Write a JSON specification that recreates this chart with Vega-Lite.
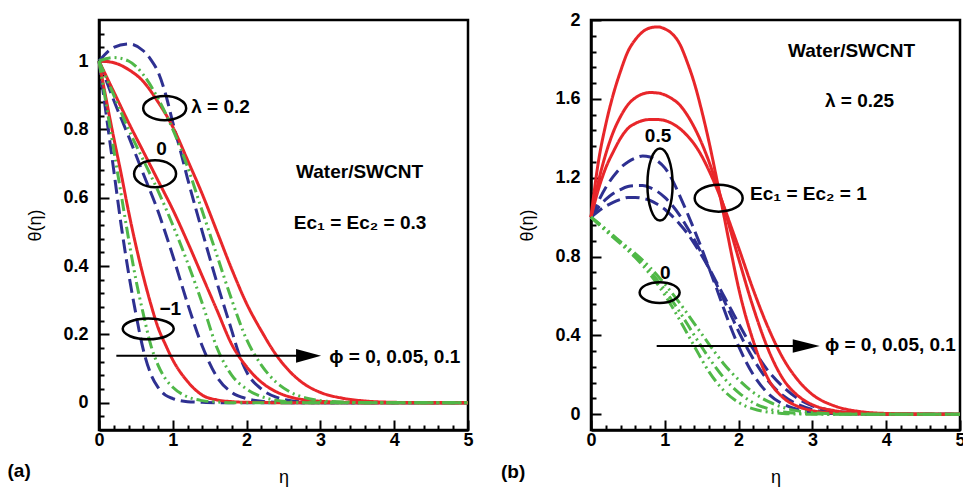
{
"$schema": "https://vega.github.io/schema/vega-lite/v6.json",
"background": "white",
"padding": {"left": 6, "top": 9, "right": 0, "bottom": 0},
"spacing": 23,
"config": {
 "view": {"stroke": "black", "strokeWidth": 2.5},
 "axis": {"domainColor": "black", "domainWidth": 2.5, "tickColor": "black", "tickWidth": 2, "labelFont": "Liberation Sans", "labelFontSize": 18, "labelFontWeight": "bold", "labelColor": "black", "titleFont": "Liberation Sans", "titleFontSize": 18, "titleFontWeight": "normal", "titleColor": "black", "grid": false, "labelFlush": false, "labelOverlap": false}
},
"datasets": {
 "A": [
  {"c":"b2","s":"b","x":0,"y":1},{"c":"b2","s":"b","x":0.2,"y":1.04},{"c":"b2","s":"b","x":0.4,"y":1.05},{"c":"b2","s":"b","x":0.6,"y":1.03},{"c":"b2","s":"b","x":0.7,"y":1.005},{"c":"b2","s":"b","x":0.8,"y":0.968},{"c":"b2","s":"b","x":0.9,"y":0.905},{"c":"b2","s":"b","x":1,"y":0.82},{"c":"b2","s":"b","x":1.1,"y":0.74},{"c":"b2","s":"b","x":1.2,"y":0.656},{"c":"b2","s":"b","x":1.4,"y":0.5},{"c":"b2","s":"b","x":1.6,"y":0.35},{"c":"b2","s":"b","x":1.8,"y":0.21},{"c":"b2","s":"b","x":1.9,"y":0.14},{"c":"b2","s":"b","x":2,"y":0.09},{"c":"b2","s":"b","x":2.2,"y":0.04},{"c":"b2","s":"b","x":2.4,"y":0.016},{"c":"b2","s":"b","x":2.6,"y":0.006},{"c":"b2","s":"b","x":2.8,"y":0.002},{"c":"b2","s":"b","x":3,"y":0},{"c":"b2","s":"b","x":4,"y":0},{"c":"b2","s":"b","x":5,"y":0},
  {"c":"b0","s":"b","x":0,"y":1},{"c":"b0","s":"b","x":0.2,"y":0.885},{"c":"b0","s":"b","x":0.4,"y":0.78},{"c":"b0","s":"b","x":0.6,"y":0.67},{"c":"b0","s":"b","x":0.8,"y":0.56},{"c":"b0","s":"b","x":1,"y":0.43},{"c":"b0","s":"b","x":1.2,"y":0.29},{"c":"b0","s":"b","x":1.4,"y":0.165},{"c":"b0","s":"b","x":1.6,"y":0.075},{"c":"b0","s":"b","x":1.8,"y":0.03},{"c":"b0","s":"b","x":2,"y":0.012},{"c":"b0","s":"b","x":2.2,"y":0.004},{"c":"b0","s":"b","x":2.4,"y":0.001},{"c":"b0","s":"b","x":2.6,"y":0},{"c":"b0","s":"b","x":3,"y":0},{"c":"b0","s":"b","x":4,"y":0},{"c":"b0","s":"b","x":5,"y":0},
  {"c":"bm","s":"b","x":0,"y":1},{"c":"bm","s":"b","x":0.1,"y":0.84},{"c":"bm","s":"b","x":0.2,"y":0.68},{"c":"bm","s":"b","x":0.3,"y":0.52},{"c":"bm","s":"b","x":0.4,"y":0.38},{"c":"bm","s":"b","x":0.5,"y":0.26},{"c":"bm","s":"b","x":0.6,"y":0.155},{"c":"bm","s":"b","x":0.7,"y":0.085},{"c":"bm","s":"b","x":0.8,"y":0.045},{"c":"bm","s":"b","x":0.9,"y":0.022},{"c":"bm","s":"b","x":1,"y":0.012},{"c":"bm","s":"b","x":1.2,"y":0.003},{"c":"bm","s":"b","x":1.4,"y":0.001},{"c":"bm","s":"b","x":1.6,"y":0},{"c":"bm","s":"b","x":2,"y":0},{"c":"bm","s":"b","x":3,"y":0},{"c":"bm","s":"b","x":4,"y":0},{"c":"bm","s":"b","x":5,"y":0},
  {"c":"r2","s":"r","x":0,"y":1},{"c":"r2","s":"r","x":0.2,"y":0.995},{"c":"r2","s":"r","x":0.4,"y":0.975},{"c":"r2","s":"r","x":0.6,"y":0.94},{"c":"r2","s":"r","x":0.8,"y":0.88},{"c":"r2","s":"r","x":1,"y":0.807},{"c":"r2","s":"r","x":1.2,"y":0.71},{"c":"r2","s":"r","x":1.4,"y":0.61},{"c":"r2","s":"r","x":1.6,"y":0.5},{"c":"r2","s":"r","x":1.8,"y":0.39},{"c":"r2","s":"r","x":2,"y":0.29},{"c":"r2","s":"r","x":2.2,"y":0.21},{"c":"r2","s":"r","x":2.4,"y":0.14},{"c":"r2","s":"r","x":2.6,"y":0.088},{"c":"r2","s":"r","x":2.8,"y":0.052},{"c":"r2","s":"r","x":3,"y":0.03},{"c":"r2","s":"r","x":3.3,"y":0.013},{"c":"r2","s":"r","x":3.6,"y":0.005},{"c":"r2","s":"r","x":4,"y":0.001},{"c":"r2","s":"r","x":4.5,"y":0},{"c":"r2","s":"r","x":5,"y":0},
  {"c":"r0","s":"r","x":0,"y":1},{"c":"r0","s":"r","x":0.2,"y":0.91},{"c":"r0","s":"r","x":0.4,"y":0.82},{"c":"r0","s":"r","x":0.6,"y":0.735},{"c":"r0","s":"r","x":0.8,"y":0.65},{"c":"r0","s":"r","x":1,"y":0.565},{"c":"r0","s":"r","x":1.2,"y":0.47},{"c":"r0","s":"r","x":1.4,"y":0.37},{"c":"r0","s":"r","x":1.6,"y":0.27},{"c":"r0","s":"r","x":1.8,"y":0.17},{"c":"r0","s":"r","x":2,"y":0.105},{"c":"r0","s":"r","x":2.2,"y":0.06},{"c":"r0","s":"r","x":2.4,"y":0.032},{"c":"r0","s":"r","x":2.6,"y":0.016},{"c":"r0","s":"r","x":2.8,"y":0.008},{"c":"r0","s":"r","x":3,"y":0.004},{"c":"r0","s":"r","x":3.3,"y":0.001},{"c":"r0","s":"r","x":3.6,"y":0},{"c":"r0","s":"r","x":4,"y":0},{"c":"r0","s":"r","x":5,"y":0},
  {"c":"rm","s":"r","x":0,"y":1},{"c":"rm","s":"r","x":0.1,"y":0.885},{"c":"rm","s":"r","x":0.2,"y":0.775},{"c":"rm","s":"r","x":0.3,"y":0.67},{"c":"rm","s":"r","x":0.4,"y":0.56},{"c":"rm","s":"r","x":0.5,"y":0.46},{"c":"rm","s":"r","x":0.6,"y":0.37},{"c":"rm","s":"r","x":0.7,"y":0.29},{"c":"rm","s":"r","x":0.8,"y":0.22},{"c":"rm","s":"r","x":0.9,"y":0.17},{"c":"rm","s":"r","x":1,"y":0.125},{"c":"rm","s":"r","x":1.2,"y":0.062},{"c":"rm","s":"r","x":1.4,"y":0.022},{"c":"rm","s":"r","x":1.6,"y":0.008},{"c":"rm","s":"r","x":1.8,"y":0.003},{"c":"rm","s":"r","x":2,"y":0.001},{"c":"rm","s":"r","x":2.5,"y":0},{"c":"rm","s":"r","x":3,"y":0},{"c":"rm","s":"r","x":4,"y":0},{"c":"rm","s":"r","x":5,"y":0},
  {"c":"g2","s":"g","x":0,"y":1},{"c":"g2","s":"g","x":0.2,"y":1.01},{"c":"g2","s":"g","x":0.4,"y":1},{"c":"g2","s":"g","x":0.6,"y":0.96},{"c":"g2","s":"g","x":0.8,"y":0.89},{"c":"g2","s":"g","x":1,"y":0.8},{"c":"g2","s":"g","x":1.2,"y":0.69},{"c":"g2","s":"g","x":1.4,"y":0.56},{"c":"g2","s":"g","x":1.6,"y":0.43},{"c":"g2","s":"g","x":1.8,"y":0.3},{"c":"g2","s":"g","x":2,"y":0.185},{"c":"g2","s":"g","x":2.2,"y":0.11},{"c":"g2","s":"g","x":2.4,"y":0.06},{"c":"g2","s":"g","x":2.6,"y":0.03},{"c":"g2","s":"g","x":2.8,"y":0.014},{"c":"g2","s":"g","x":3,"y":0.006},{"c":"g2","s":"g","x":3.3,"y":0.002},{"c":"g2","s":"g","x":3.6,"y":0},{"c":"g2","s":"g","x":4,"y":0},{"c":"g2","s":"g","x":5,"y":0},
  {"c":"g0","s":"g","x":0,"y":1},{"c":"g0","s":"g","x":0.2,"y":0.9},{"c":"g0","s":"g","x":0.4,"y":0.8},{"c":"g0","s":"g","x":0.6,"y":0.71},{"c":"g0","s":"g","x":0.8,"y":0.62},{"c":"g0","s":"g","x":1,"y":0.52},{"c":"g0","s":"g","x":1.2,"y":0.41},{"c":"g0","s":"g","x":1.4,"y":0.29},{"c":"g0","s":"g","x":1.6,"y":0.16},{"c":"g0","s":"g","x":1.8,"y":0.08},{"c":"g0","s":"g","x":2,"y":0.04},{"c":"g0","s":"g","x":2.2,"y":0.018},{"c":"g0","s":"g","x":2.4,"y":0.007},{"c":"g0","s":"g","x":2.6,"y":0.002},{"c":"g0","s":"g","x":2.8,"y":0},{"c":"g0","s":"g","x":3,"y":0},{"c":"g0","s":"g","x":4,"y":0},{"c":"g0","s":"g","x":5,"y":0},
  {"c":"gm","s":"g","x":0,"y":1},{"c":"gm","s":"g","x":0.1,"y":0.87},{"c":"gm","s":"g","x":0.2,"y":0.74},{"c":"gm","s":"g","x":0.3,"y":0.61},{"c":"gm","s":"g","x":0.4,"y":0.48},{"c":"gm","s":"g","x":0.5,"y":0.36},{"c":"gm","s":"g","x":0.6,"y":0.26},{"c":"gm","s":"g","x":0.7,"y":0.17},{"c":"gm","s":"g","x":0.8,"y":0.11},{"c":"gm","s":"g","x":0.9,"y":0.07},{"c":"gm","s":"g","x":1,"y":0.045},{"c":"gm","s":"g","x":1.2,"y":0.017},{"c":"gm","s":"g","x":1.4,"y":0.006},{"c":"gm","s":"g","x":1.6,"y":0.002},{"c":"gm","s":"g","x":1.8,"y":0},{"c":"gm","s":"g","x":2,"y":0},{"c":"gm","s":"g","x":3,"y":0},{"c":"gm","s":"g","x":4,"y":0},{"c":"gm","s":"g","x":5,"y":0}
 ],
 "B": [
  {"c":"B0","s":"b","x":0,"y":1},{"c":"B0","s":"b","x":0.1,"y":1.08},{"c":"B0","s":"b","x":0.2,"y":1.15},{"c":"B0","s":"b","x":0.3,"y":1.205},{"c":"B0","s":"b","x":0.4,"y":1.25},{"c":"B0","s":"b","x":0.5,"y":1.28},{"c":"B0","s":"b","x":0.6,"y":1.3},{"c":"B0","s":"b","x":0.7,"y":1.31},{"c":"B0","s":"b","x":0.8,"y":1.305},{"c":"B0","s":"b","x":0.9,"y":1.285},{"c":"B0","s":"b","x":1,"y":1.25},{"c":"B0","s":"b","x":1.1,"y":1.19},{"c":"B0","s":"b","x":1.2,"y":1.11},{"c":"B0","s":"b","x":1.3,"y":1.025},{"c":"B0","s":"b","x":1.4,"y":0.935},{"c":"B0","s":"b","x":1.5,"y":0.84},{"c":"B0","s":"b","x":1.6,"y":0.74},{"c":"B0","s":"b","x":1.7,"y":0.64},{"c":"B0","s":"b","x":1.8,"y":0.535},{"c":"B0","s":"b","x":1.9,"y":0.435},{"c":"B0","s":"b","x":2,"y":0.345},{"c":"B0","s":"b","x":2.2,"y":0.2},{"c":"B0","s":"b","x":2.4,"y":0.105},{"c":"B0","s":"b","x":2.6,"y":0.052},{"c":"B0","s":"b","x":2.8,"y":0.024},{"c":"B0","s":"b","x":3,"y":0.01},{"c":"B0","s":"b","x":3.3,"y":0.003},{"c":"B0","s":"b","x":3.6,"y":0.001},{"c":"B0","s":"b","x":4,"y":0},{"c":"B0","s":"b","x":5,"y":0},
  {"c":"B1","s":"b","x":0,"y":1},{"c":"B1","s":"b","x":0.1,"y":1.05},{"c":"B1","s":"b","x":0.2,"y":1.09},{"c":"B1","s":"b","x":0.3,"y":1.12},{"c":"B1","s":"b","x":0.4,"y":1.14},{"c":"B1","s":"b","x":0.5,"y":1.155},{"c":"B1","s":"b","x":0.6,"y":1.16},{"c":"B1","s":"b","x":0.7,"y":1.16},{"c":"B1","s":"b","x":0.8,"y":1.15},{"c":"B1","s":"b","x":0.9,"y":1.13},{"c":"B1","s":"b","x":1,"y":1.1},{"c":"B1","s":"b","x":1.1,"y":1.06},{"c":"B1","s":"b","x":1.2,"y":1.01},{"c":"B1","s":"b","x":1.3,"y":0.95},{"c":"B1","s":"b","x":1.4,"y":0.885},{"c":"B1","s":"b","x":1.5,"y":0.815},{"c":"B1","s":"b","x":1.6,"y":0.74},{"c":"B1","s":"b","x":1.7,"y":0.66},{"c":"B1","s":"b","x":1.8,"y":0.58},{"c":"B1","s":"b","x":1.9,"y":0.5},{"c":"B1","s":"b","x":2,"y":0.42},{"c":"B1","s":"b","x":2.2,"y":0.28},{"c":"B1","s":"b","x":2.4,"y":0.17},{"c":"B1","s":"b","x":2.6,"y":0.095},{"c":"B1","s":"b","x":2.8,"y":0.05},{"c":"B1","s":"b","x":3,"y":0.024},{"c":"B1","s":"b","x":3.3,"y":0.008},{"c":"B1","s":"b","x":3.6,"y":0.002},{"c":"B1","s":"b","x":4,"y":0},{"c":"B1","s":"b","x":5,"y":0},
  {"c":"B2","s":"b","x":0,"y":1},{"c":"B2","s":"b","x":0.1,"y":1.03},{"c":"B2","s":"b","x":0.2,"y":1.055},{"c":"B2","s":"b","x":0.3,"y":1.075},{"c":"B2","s":"b","x":0.4,"y":1.09},{"c":"B2","s":"b","x":0.5,"y":1.1},{"c":"B2","s":"b","x":0.6,"y":1.1},{"c":"B2","s":"b","x":0.7,"y":1.095},{"c":"B2","s":"b","x":0.8,"y":1.085},{"c":"B2","s":"b","x":0.9,"y":1.065},{"c":"B2","s":"b","x":1,"y":1.04},{"c":"B2","s":"b","x":1.1,"y":1.005},{"c":"B2","s":"b","x":1.2,"y":0.965},{"c":"B2","s":"b","x":1.3,"y":0.92},{"c":"B2","s":"b","x":1.4,"y":0.865},{"c":"B2","s":"b","x":1.5,"y":0.805},{"c":"B2","s":"b","x":1.6,"y":0.74},{"c":"B2","s":"b","x":1.7,"y":0.67},{"c":"B2","s":"b","x":1.8,"y":0.6},{"c":"B2","s":"b","x":1.9,"y":0.53},{"c":"B2","s":"b","x":2,"y":0.46},{"c":"B2","s":"b","x":2.2,"y":0.33},{"c":"B2","s":"b","x":2.4,"y":0.22},{"c":"B2","s":"b","x":2.6,"y":0.14},{"c":"B2","s":"b","x":2.8,"y":0.08},{"c":"B2","s":"b","x":3,"y":0.043},{"c":"B2","s":"b","x":3.3,"y":0.016},{"c":"B2","s":"b","x":3.6,"y":0.006},{"c":"B2","s":"b","x":4,"y":0.001},{"c":"B2","s":"b","x":5,"y":0},
  {"c":"R0","s":"r","x":0,"y":1},{"c":"R0","s":"r","x":0.1,"y":1.28},{"c":"R0","s":"r","x":0.2,"y":1.47},{"c":"R0","s":"r","x":0.3,"y":1.62},{"c":"R0","s":"r","x":0.4,"y":1.74},{"c":"R0","s":"r","x":0.5,"y":1.84},{"c":"R0","s":"r","x":0.6,"y":1.9},{"c":"R0","s":"r","x":0.7,"y":1.94},{"c":"R0","s":"r","x":0.8,"y":1.96},{"c":"R0","s":"r","x":0.9,"y":1.965},{"c":"R0","s":"r","x":1,"y":1.955},{"c":"R0","s":"r","x":1.1,"y":1.93},{"c":"R0","s":"r","x":1.2,"y":1.88},{"c":"R0","s":"r","x":1.3,"y":1.79},{"c":"R0","s":"r","x":1.4,"y":1.68},{"c":"R0","s":"r","x":1.5,"y":1.54},{"c":"R0","s":"r","x":1.6,"y":1.38},{"c":"R0","s":"r","x":1.7,"y":1.2},{"c":"R0","s":"r","x":1.8,"y":1.01},{"c":"R0","s":"r","x":1.9,"y":0.82},{"c":"R0","s":"r","x":2,"y":0.64},{"c":"R0","s":"r","x":2.2,"y":0.37},{"c":"R0","s":"r","x":2.4,"y":0.18},{"c":"R0","s":"r","x":2.6,"y":0.085},{"c":"R0","s":"r","x":2.8,"y":0.04},{"c":"R0","s":"r","x":3,"y":0.018},{"c":"R0","s":"r","x":3.3,"y":0.006},{"c":"R0","s":"r","x":3.6,"y":0.002},{"c":"R0","s":"r","x":4,"y":0},{"c":"R0","s":"r","x":5,"y":0},
  {"c":"R1","s":"r","x":0,"y":1},{"c":"R1","s":"r","x":0.1,"y":1.18},{"c":"R1","s":"r","x":0.2,"y":1.32},{"c":"R1","s":"r","x":0.3,"y":1.43},{"c":"R1","s":"r","x":0.4,"y":1.51},{"c":"R1","s":"r","x":0.5,"y":1.57},{"c":"R1","s":"r","x":0.6,"y":1.605},{"c":"R1","s":"r","x":0.7,"y":1.625},{"c":"R1","s":"r","x":0.8,"y":1.632},{"c":"R1","s":"r","x":0.9,"y":1.63},{"c":"R1","s":"r","x":1,"y":1.62},{"c":"R1","s":"r","x":1.1,"y":1.6},{"c":"R1","s":"r","x":1.2,"y":1.57},{"c":"R1","s":"r","x":1.3,"y":1.52},{"c":"R1","s":"r","x":1.4,"y":1.455},{"c":"R1","s":"r","x":1.5,"y":1.375},{"c":"R1","s":"r","x":1.6,"y":1.28},{"c":"R1","s":"r","x":1.7,"y":1.17},{"c":"R1","s":"r","x":1.8,"y":1.05},{"c":"R1","s":"r","x":1.9,"y":0.92},{"c":"R1","s":"r","x":2,"y":0.79},{"c":"R1","s":"r","x":2.2,"y":0.54},{"c":"R1","s":"r","x":2.4,"y":0.33},{"c":"R1","s":"r","x":2.6,"y":0.18},{"c":"R1","s":"r","x":2.8,"y":0.095},{"c":"R1","s":"r","x":3,"y":0.048},{"c":"R1","s":"r","x":3.3,"y":0.018},{"c":"R1","s":"r","x":3.6,"y":0.006},{"c":"R1","s":"r","x":4,"y":0.001},{"c":"R1","s":"r","x":5,"y":0},
  {"c":"R2","s":"r","x":0,"y":1},{"c":"R2","s":"r","x":0.1,"y":1.14},{"c":"R2","s":"r","x":0.2,"y":1.25},{"c":"R2","s":"r","x":0.3,"y":1.33},{"c":"R2","s":"r","x":0.4,"y":1.4},{"c":"R2","s":"r","x":0.5,"y":1.45},{"c":"R2","s":"r","x":0.6,"y":1.475},{"c":"R2","s":"r","x":0.7,"y":1.49},{"c":"R2","s":"r","x":0.8,"y":1.495},{"c":"R2","s":"r","x":0.9,"y":1.495},{"c":"R2","s":"r","x":1,"y":1.49},{"c":"R2","s":"r","x":1.1,"y":1.475},{"c":"R2","s":"r","x":1.2,"y":1.45},{"c":"R2","s":"r","x":1.3,"y":1.415},{"c":"R2","s":"r","x":1.4,"y":1.37},{"c":"R2","s":"r","x":1.5,"y":1.31},{"c":"R2","s":"r","x":1.6,"y":1.235},{"c":"R2","s":"r","x":1.7,"y":1.15},{"c":"R2","s":"r","x":1.8,"y":1.055},{"c":"R2","s":"r","x":1.9,"y":0.95},{"c":"R2","s":"r","x":2,"y":0.845},{"c":"R2","s":"r","x":2.2,"y":0.63},{"c":"R2","s":"r","x":2.4,"y":0.44},{"c":"R2","s":"r","x":2.6,"y":0.285},{"c":"R2","s":"r","x":2.8,"y":0.175},{"c":"R2","s":"r","x":3,"y":0.1},{"c":"R2","s":"r","x":3.3,"y":0.042},{"c":"R2","s":"r","x":3.6,"y":0.016},{"c":"R2","s":"r","x":4,"y":0.004},{"c":"R2","s":"r","x":4.5,"y":0.001},{"c":"R2","s":"r","x":5,"y":0},
  {"c":"G0","s":"g","x":0,"y":1},{"c":"G0","s":"g","x":0.2,"y":0.93},{"c":"G0","s":"g","x":0.4,"y":0.865},{"c":"G0","s":"g","x":0.6,"y":0.795},{"c":"G0","s":"g","x":0.8,"y":0.71},{"c":"G0","s":"g","x":1,"y":0.605},{"c":"G0","s":"g","x":1.2,"y":0.48},{"c":"G0","s":"g","x":1.4,"y":0.345},{"c":"G0","s":"g","x":1.6,"y":0.215},{"c":"G0","s":"g","x":1.8,"y":0.12},{"c":"G0","s":"g","x":2,"y":0.06},{"c":"G0","s":"g","x":2.2,"y":0.027},{"c":"G0","s":"g","x":2.4,"y":0.011},{"c":"G0","s":"g","x":2.6,"y":0.004},{"c":"G0","s":"g","x":2.8,"y":0.001},{"c":"G0","s":"g","x":3,"y":0},{"c":"G0","s":"g","x":4,"y":0},{"c":"G0","s":"g","x":5,"y":0},
  {"c":"G1","s":"g","x":0,"y":1},{"c":"G1","s":"g","x":0.2,"y":0.935},{"c":"G1","s":"g","x":0.4,"y":0.87},{"c":"G1","s":"g","x":0.6,"y":0.805},{"c":"G1","s":"g","x":0.8,"y":0.725},{"c":"G1","s":"g","x":1,"y":0.63},{"c":"G1","s":"g","x":1.2,"y":0.52},{"c":"G1","s":"g","x":1.4,"y":0.4},{"c":"G1","s":"g","x":1.6,"y":0.285},{"c":"G1","s":"g","x":1.8,"y":0.185},{"c":"G1","s":"g","x":2,"y":0.11},{"c":"G1","s":"g","x":2.2,"y":0.058},{"c":"G1","s":"g","x":2.4,"y":0.028},{"c":"G1","s":"g","x":2.6,"y":0.012},{"c":"G1","s":"g","x":2.8,"y":0.005},{"c":"G1","s":"g","x":3,"y":0.002},{"c":"G1","s":"g","x":3.3,"y":0},{"c":"G1","s":"g","x":4,"y":0},{"c":"G1","s":"g","x":5,"y":0},
  {"c":"G2","s":"g","x":0,"y":1},{"c":"G2","s":"g","x":0.2,"y":0.94},{"c":"G2","s":"g","x":0.4,"y":0.875},{"c":"G2","s":"g","x":0.6,"y":0.815},{"c":"G2","s":"g","x":0.8,"y":0.745},{"c":"G2","s":"g","x":1,"y":0.66},{"c":"G2","s":"g","x":1.2,"y":0.565},{"c":"G2","s":"g","x":1.4,"y":0.46},{"c":"G2","s":"g","x":1.6,"y":0.355},{"c":"G2","s":"g","x":1.8,"y":0.255},{"c":"G2","s":"g","x":2,"y":0.175},{"c":"G2","s":"g","x":2.2,"y":0.11},{"c":"G2","s":"g","x":2.4,"y":0.065},{"c":"G2","s":"g","x":2.6,"y":0.035},{"c":"G2","s":"g","x":2.8,"y":0.017},{"c":"G2","s":"g","x":3,"y":0.008},{"c":"G2","s":"g","x":3.3,"y":0.002},{"c":"G2","s":"g","x":3.6,"y":0},{"c":"G2","s":"g","x":4,"y":0},{"c":"G2","s":"g","x":5,"y":0}
 ],
 "txtA": [
  {"t":"λ = 0.2","x":1.25,"y":0.865},{"t":"0","x":0.775,"y":0.741},{"t":"−1","x":0.82,"y":0.273},{"t":"Water/SWCNT","x":2.67,"y":0.675},{"t":"Ec₁ = Ec₂ = 0.3","x":2.64,"y":0.526},{"t":"ϕ = 0, 0.05, 0.1","x":3.12,"y":0.135},{"t":"(a)","x":-1.24,"y":-0.2}
 ],
 "txtB": [
  {"t":"Water/SWCNT","x":2.67,"y":1.842},{"t":"λ = 0.25","x":3.17,"y":1.588},{"t":"Ec₁ = Ec₂ = 1","x":2.155,"y":1.115},{"t":"ϕ = 0, 0.05, 0.1","x":3.17,"y":0.351},{"t":"0.5","x":0.73,"y":1.41},{"t":"0","x":0.935,"y":0.718},{"t":"(b)","x":-1.22,"y":-0.295}
 ],
 "ellA": [
  {"e":"lam","x":0.89,"y":0.862},{"e":"zero","x":0.76,"y":0.67},{"e":"minus","x":0.667,"y":0.216}
 ],
 "ellB": [
  {"e":"half","x":0.935,"y":1.165},{"e":"ec","x":1.73,"y":1.096},{"e":"zero","x":0.93,"y":0.617}
 ],
 "arrA": [{"x1":0.235,"hx":2.84,"y":0.137}],
 "arrB": [{"x1":0.89,"hx":2.917,"y":0.346}]
},
"hconcat": [
 {
  "width": 369, "height": 410,
  "resolve": {"axis": {"x": "independent", "y": "independent"}},
  "layer": [
   {"data": {"name": "A"}, "mark": {"type": "line", "strokeWidth": 3, "interpolate": "monotone"},
    "encoding": {
     "x": {"field": "x", "type": "quantitative", "title": "η", "scale": {"domain": [0, 5], "nice": false, "zero": false},
       "axis": {"orient": "bottom", "values": [0,1,2,3,4,5], "format": "d", "tickSize": -10, "labelPadding": 11, "titlePadding": 19}},
     "y": {"field": "y", "type": "quantitative", "title": "θ(η)", "scale": {"domain": [-0.08, 1.12], "nice": false, "zero": false},
       "axis": {"orient": "left", "values": [0,0.2,0.4,0.6,0.8,1], "format": ".1~f", "tickSize": -10, "labelPadding": 21, "titlePadding": 18}},
     "color": {"field": "s", "type": "nominal", "scale": {"domain": ["r","b","g"], "range": ["#E8262A","#2E3091","#50B848"]}, "legend": null},
     "strokeDash": {"field": "s", "type": "nominal", "scale": {"domain": ["r","b","g"], "range": [[1,0],[14,6],[12,4,2,4,2,4]]}, "legend": null},
     "detail": {"field": "c"}
    }},
   {"data": {"name": "arrA"}, "mark": {"type": "rule", "strokeWidth": 2, "color": "black"},
    "encoding": {
     "x": {"field": "x1", "type": "quantitative", "axis": {"orient": "bottom", "values": [0.2,0.4,0.6,0.8,1.2,1.4,1.6,1.8,2.2,2.4,2.6,2.8,3.2,3.4,3.6,3.8,4.2,4.4,4.6,4.8], "labels": false, "domain": false, "tickSize": -5, "title": null}},
     "x2": {"field": "hx"},
     "y": {"field": "y", "type": "quantitative", "axis": {"orient": "left", "values": [-0.04,0.04,0.08,0.12,0.16,0.24,0.28,0.32,0.36,0.44,0.48,0.52,0.56,0.64,0.68,0.72,0.76,0.84,0.88,0.92,0.96,1.04,1.08], "labels": false, "domain": false, "tickSize": -5, "title": null}}}},
   {"data": {"name": "arrA"}, "mark": {"type": "point", "shape": "M-1,-0.55L1,0L-1,0.55Z", "size": 625, "filled": true, "color": "black", "opacity": 1},
    "encoding": {"x": {"field": "hx", "type": "quantitative", "axis": null}, "y": {"field": "y", "type": "quantitative", "axis": null}}},
   {"data": {"name": "ellA"}, "transform": [{"filter": "datum.e == 'lam'"}], "mark": {"type": "point", "shape": "M-1,0C-1,-0.309 -0.5523,-0.56 0,-0.56C0.5523,-0.56 1,-0.309 1,0C1,0.309 0.5523,0.56 0,0.56C-0.5523,0.56 -1,0.309 -1,0Z", "size": 1849, "filled": false, "stroke": "black", "strokeWidth": 2.5, "opacity": 1},
    "encoding": {"x": {"field": "x", "type": "quantitative", "axis": null}, "y": {"field": "y", "type": "quantitative", "axis": null}}},
   {"data": {"name": "ellA"}, "transform": [{"filter": "datum.e == 'zero'"}], "mark": {"type": "point", "shape": "M-1,0C-1,-0.353 -0.5523,-0.64 0,-0.64C0.5523,-0.64 1,-0.353 1,0C1,0.353 0.5523,0.64 0,0.64C-0.5523,0.64 -1,0.353 -1,0Z", "size": 1764, "filled": false, "stroke": "black", "strokeWidth": 2.5, "opacity": 1},
    "encoding": {"x": {"field": "x", "type": "quantitative", "axis": null}, "y": {"field": "y", "type": "quantitative", "axis": null}}},
   {"data": {"name": "ellA"}, "transform": [{"filter": "datum.e == 'minus'"}], "mark": {"type": "point", "shape": "M-1,0C-1,-0.226 -0.5523,-0.41 0,-0.41C0.5523,-0.41 1,-0.226 1,0C1,0.226 0.5523,0.41 0,0.41C-0.5523,0.41 -1,0.226 -1,0Z", "size": 2601, "filled": false, "stroke": "black", "strokeWidth": 2.5, "opacity": 1},
    "encoding": {"x": {"field": "x", "type": "quantitative", "axis": null}, "y": {"field": "y", "type": "quantitative", "axis": null}}},
   {"data": {"name": "txtA"}, "mark": {"type": "text", "align": "left", "baseline": "middle", "font": "Liberation Sans", "fontSize": 19, "fontWeight": "bold", "color": "black"},
    "encoding": {"x": {"field": "x", "type": "quantitative", "axis": null}, "y": {"field": "y", "type": "quantitative", "axis": null}, "text": {"field": "t"}}}
  ]
 },
 {
  "width": 369, "height": 410,
  "resolve": {"axis": {"x": "independent", "y": "independent"}},
  "layer": [
   {"data": {"name": "B"}, "mark": {"type": "line", "strokeWidth": 3, "interpolate": "monotone"},
    "encoding": {
     "x": {"field": "x", "type": "quantitative", "title": "η", "scale": {"domain": [0, 5], "nice": false, "zero": false},
       "axis": {"orient": "bottom", "values": [0,1,2,3,4,5], "format": "d", "tickSize": -10, "labelPadding": 11, "titlePadding": 19}},
     "y": {"field": "y", "type": "quantitative", "title": "θ(η)", "scale": {"domain": [-0.08, 2], "nice": false, "zero": false},
       "axis": {"orient": "left", "values": [0,0.4,0.8,1.2,1.6,2], "format": ".1~f", "tickSize": -10, "labelPadding": 21, "titlePadding": 18}},
     "color": {"field": "s", "type": "nominal", "scale": {"domain": ["r","b","g"], "range": ["#E8262A","#2E3091","#50B848"]}, "legend": null},
     "strokeDash": {"field": "s", "type": "nominal", "scale": {"domain": ["r","b","g"], "range": [[1,0],[14,6],[12,4,2,4,2,4]]}, "legend": null},
     "detail": {"field": "c"}
    }},
   {"data": {"name": "arrB"}, "mark": {"type": "rule", "strokeWidth": 2, "color": "black"},
    "encoding": {
     "x": {"field": "x1", "type": "quantitative", "axis": {"orient": "bottom", "values": [0.2,0.4,0.6,0.8,1.2,1.4,1.6,1.8,2.2,2.4,2.6,2.8,3.2,3.4,3.6,3.8,4.2,4.4,4.6,4.8], "labels": false, "domain": false, "tickSize": -5, "title": null}},
     "x2": {"field": "hx"},
     "y": {"field": "y", "type": "quantitative", "axis": {"orient": "left", "values": [0.08,0.16,0.24,0.32,0.48,0.56,0.64,0.72,0.88,0.96,1.04,1.12,1.28,1.36,1.44,1.52,1.68,1.76,1.84,1.92], "labels": false, "domain": false, "tickSize": -5, "title": null}}}},
   {"data": {"name": "arrB"}, "mark": {"type": "point", "shape": "M-1,-0.5L1,0L-1,0.5Z", "size": 729, "filled": true, "color": "black", "opacity": 1},
    "encoding": {"x": {"field": "hx", "type": "quantitative", "axis": null}, "y": {"field": "y", "type": "quantitative", "axis": null}}},
   {"data": {"name": "ellB"}, "transform": [{"filter": "datum.e == 'half'"}], "mark": {"type": "point", "shape": "M0,-1C0.193,-1 0.35,-0.5523 0.35,0C0.35,0.5523 0.193,1 0,1C-0.193,1 -0.35,0.5523 -0.35,0C-0.35,-0.5523 -0.193,-1 0,-1Z", "size": 5184, "filled": false, "stroke": "black", "strokeWidth": 2.5, "opacity": 1},
    "encoding": {"x": {"field": "x", "type": "quantitative", "axis": null}, "y": {"field": "y", "type": "quantitative", "axis": null}}},
   {"data": {"name": "ellB"}, "transform": [{"filter": "datum.e == 'ec'"}], "mark": {"type": "point", "shape": "M-1,0C-1,-0.309 -0.5523,-0.56 0,-0.56C0.5523,-0.56 1,-0.309 1,0C1,0.309 0.5523,0.56 0,0.56C-0.5523,0.56 -1,0.309 -1,0Z", "size": 2304, "filled": false, "stroke": "black", "strokeWidth": 2.5, "opacity": 1},
    "encoding": {"x": {"field": "x", "type": "quantitative", "axis": null}, "y": {"field": "y", "type": "quantitative", "axis": null}}},
   {"data": {"name": "ellB"}, "transform": [{"filter": "datum.e == 'zero'"}], "mark": {"type": "point", "shape": "M-1,0C-1,-0.287 -0.5523,-0.52 0,-0.52C0.5523,-0.52 1,-0.287 1,0C1,0.287 0.5523,0.52 0,0.52C-0.5523,0.52 -1,0.287 -1,0Z", "size": 1600, "filled": false, "stroke": "black", "strokeWidth": 2.5, "opacity": 1},
    "encoding": {"x": {"field": "x", "type": "quantitative", "axis": null}, "y": {"field": "y", "type": "quantitative", "axis": null}}},
   {"data": {"name": "txtB"}, "mark": {"type": "text", "align": "left", "baseline": "middle", "font": "Liberation Sans", "fontSize": 19, "fontWeight": "bold", "color": "black"},
    "encoding": {"x": {"field": "x", "type": "quantitative", "axis": null}, "y": {"field": "y", "type": "quantitative", "axis": null}, "text": {"field": "t"}}}
  ]
 }
]
}
